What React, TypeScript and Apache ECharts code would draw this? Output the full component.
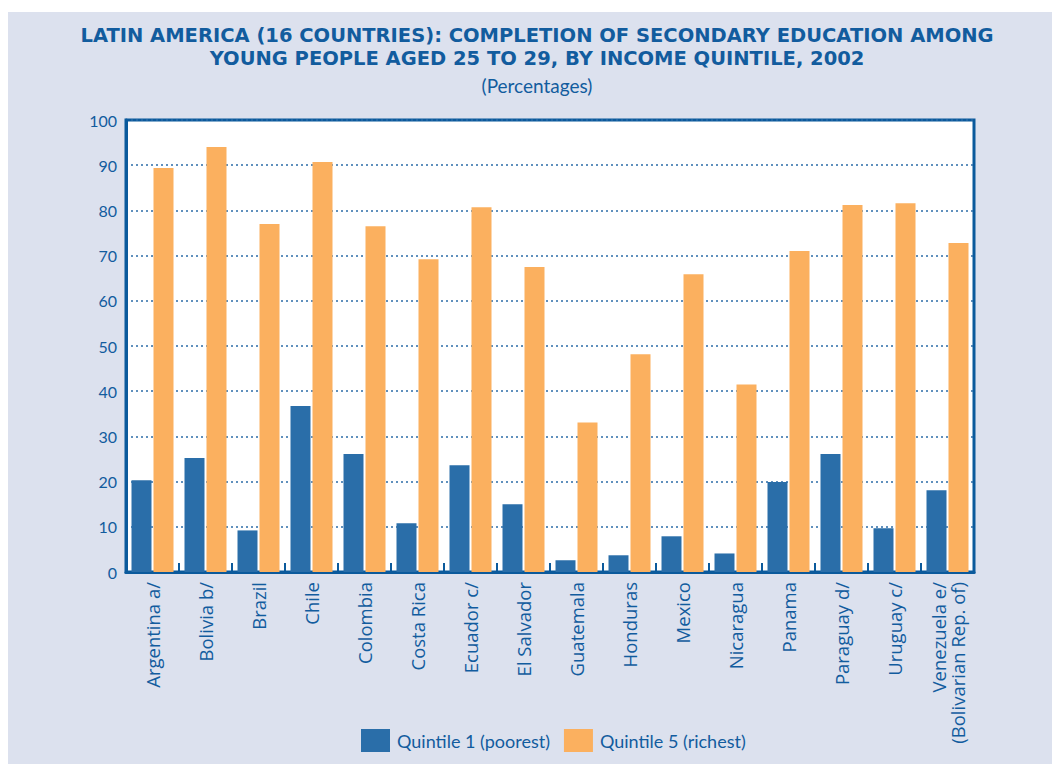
import React, { useEffect, useRef } from "react";
import * as echarts from "echarts";

const countries = [
  "Argentina a/", "Bolivia b/", "Brazil", "Chile", "Colombia", "Costa Rica",
  "Ecuador c/", "El Salvador", "Guatemala", "Honduras", "Mexico", "Nicaragua",
  "Panama", "Paraguay d/", "Uruguay c/", "Venezuela e/\n(Bolivarian Rep. of)",
];
const quintile1 = [20.3, 25.2, 9.2, 36.7, 26.1, 10.8, 23.6, 15.0, 2.6, 3.7, 7.9, 4.1, 19.9, 26.1, 9.7, 18.1];
const quintile5 = [89.4, 94.0, 77.0, 90.7, 76.5, 69.2, 80.7, 67.5, 33.1, 48.2, 65.9, 41.5, 71.0, 81.2, 81.6, 72.8];
const seriesNames = ["Quintile 1 (poorest)", "Quintile 5 (richest)"];
const titleLines = [
  "LATIN AMERICA (16 COUNTRIES): COMPLETION OF SECONDARY EDUCATION AMONG",
  "YOUNG PEOPLE AGED 25 TO 29, BY INCOME QUINTILE, 2002",
];
const subtitle = "(Percentages)";

const BLUE_TEXT = "#125c9e";
const FONT = "Lato";

export default function App() {
  const ref = useRef<HTMLDivElement>(null);
  useEffect(() => {
    if (!ref.current) return;
    const chart = echarts.init(ref.current, undefined, { renderer: "svg" });
    const titleStyle = {
      fontFamily: "DejaVu Sans", fontWeight: "bold", fontSize: 19.5, lineHeight: 23, color: BLUE_TEXT,
    };
    chart.setOption({
      animation: false,
      backgroundColor: "#dce1ee",
      title: [
        { text: titleLines[0], left: 529, top: 11.5, padding: 0, textAlign: "center", textStyle: titleStyle },
        { text: titleLines[1], left: 529, top: 35, padding: 0, textAlign: "center", textStyle: titleStyle },
        {
          text: subtitle,
          left: 529, top: 63, padding: 0, textAlign: "center",
          textStyle: { fontFamily: FONT, fontWeight: "normal", fontSize: 19, lineHeight: 20, color: BLUE_TEXT },
        },
      ],
      legend: {
        left: 348, top: 712,
        itemWidth: 29, itemHeight: 23, itemGap: 14,
        icon: "rect",
        textStyle: { fontFamily: FONT, fontSize: 18, color: BLUE_TEXT, padding: [0, 0, 0, 2] },
        data: seriesNames,
      },
      grid: {
        left: 118, top: 108, right: 78, bottom: 192,
        show: true, backgroundColor: "#ffffff", borderColor: "#0b5a9c", borderWidth: 3,
      },
      xAxis: {
        type: "category",
        data: countries,
        axisLine: { lineStyle: { color: "#0b5a9c", width: 3 } },
        axisTick: { show: true, inside: true, length: 9, lineStyle: { color: "#0b5a9c", width: 2 } },
        axisLabel: {
          rotate: 90, interval: 0, margin: 10,
          fontFamily: "Open Sans", fontSize: 18.5, color: BLUE_TEXT, lineHeight: 19,
        },
      },
      yAxis: {
        type: "value", min: 0, max: 100, interval: 10,
        axisLine: { show: true, lineStyle: { color: "#0b5a9c", width: 3 } },
        axisTick: { show: false },
        axisLabel: { fontFamily: FONT, fontSize: 16, color: BLUE_TEXT, margin: 9 },
        splitLine: { show: true, lineStyle: { color: "#2c6ca8", type: [2, 3], width: 1.5 } },
      },
      series: [
        {
          name: seriesNames[0], type: "bar", data: quintile1,
          barWidth: 20, barGap: "10%",
          itemStyle: { color: "#2a6ea9" },
        },
        {
          name: seriesNames[1], type: "bar", data: quintile5,
          barWidth: 20, barGap: "10%",
          itemStyle: { color: "#fbb05f" },
        },
      ],
    });
    return () => chart.dispose();
  }, []);
  return (
    <div style={{ position: "absolute", left: 0, top: 0, width: 1052, height: 764, background: "#ffffff" }}>
      <div ref={ref} style={{ position: "absolute", left: 8, top: 12, width: 1044, height: 752 }} />
    </div>
  );
}
